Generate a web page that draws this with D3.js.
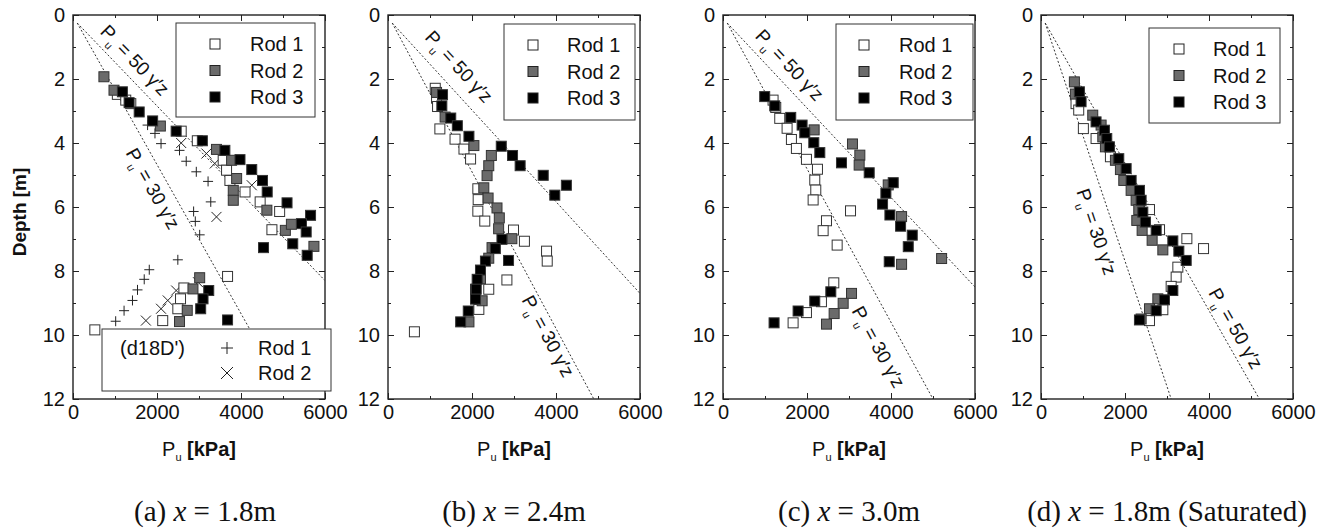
<!DOCTYPE html>
<meta charset="utf-8">
<style>
  body { margin: 0; background: #fff; }
  text { font-family: "Liberation Sans", Arial, sans-serif; fill: #111; }
  .tick line { stroke: #222; }
  .tick text { font-size: 20px; fill: #111; }
  .caption { font-family: "Liberation Serif", "Times New Roman", serif; font-size: 29px; }
</style>
<body>
<div id="chart"></div>
<script src="https://cdn.jsdelivr.net/npm/d3@7"></script>
<script>

// ---- data: [P_u (kPa), depth (m)] ----
var rod1A = [[1056,2.48],[1256,2.66],[1376,2.77],[2576,3.63],[2960,3.93],[3576,4.54],[3656,4.85],[3736,5.17],[4096,5.53],[4456,5.84],[4920,6.14],[4736,6.71],[3680,8.17],[2640,8.53],[2560,8.87],[2496,9.18],[2136,9.55],[520,9.84]];
var rod2A = [[736,1.93],[976,2.35],[2080,3.47],[3416,4.2],[3776,4.54],[3896,5.11],[3816,5.48],[3816,5.79],[4616,6.1],[5056,6.73],[5200,6.54],[5736,7.23],[3016,8.21],[2856,8.56],[2720,9.23],[2536,9.58]];
var rod3A = [[1176,2.4],[1336,2.74],[1576,3.03],[1896,3.31],[2456,3.63],[3080,3.93],[3616,4.23],[3976,4.52],[4256,4.83],[4512,5.17],[4624,5.53],[5096,5.87],[5656,6.26],[5440,6.52],[5552,6.78],[5232,7.15],[5576,7.51],[4536,7.27],[3232,8.61],[3096,8.87],[3040,9.18],[3680,9.53]];
var d18Rod1A = [[1776,3.44],[1952,3.7],[2096,4.02],[2536,4.23],[2696,4.57],[2936,4.9],[3216,5.2],[3280,5.84],[2872,6.14],[2912,6.45],[3016,6.87],[2496,7.65],[1816,7.96],[1696,8.26],[1536,8.59],[1416,8.92],[1216,9.24],[1016,9.57]];
var d18Rod2A = [[2576,4.0],[3176,4.33],[3376,4.64],[4256,5.32],[3416,6.31],[2976,8.35],[2456,8.61],[2256,8.92],[2096,9.18],[1736,9.55]];

var rod1B = [[1125,2.29],[1156,2.6],[1180,2.86],[1235,3.56],[1596,3.88],[1809,4.19],[1966,4.5],[2139,5.43],[2147,5.77],[2139,6.13],[2304,6.44],[2988,6.72],[3248,7.07],[3775,7.38],[3791,7.69],[2831,8.28],[2399,8.57],[2163,9.2],[629,9.9]];
var rod2B = [[1156,2.42],[1360,3.19],[2045,4.08],[2461,4.39],[2399,4.71],[2359,5.02],[2281,5.4],[2383,5.72],[2595,6.03],[2650,6.34],[2634,6.68],[2949,6.99],[2477,7.27],[2399,7.6],[2202,8.24],[2084,8.57],[2241,8.93],[1927,9.59]];
var rod3B = [[1298,2.49],[1282,2.84],[1494,3.22],[1651,3.46],[1927,3.79],[2697,4.1],[2965,4.39],[3146,4.71],[3696,5.01],[4247,5.32],[3971,5.63],[2713,7.01],[2870,7.67],[2556,7.3],[2320,7.69],[2202,7.97],[2123,8.26],[2100,8.57],[2084,8.88],[1911,9.25],[1730,9.59]];

var rod1C = [[1192,2.66],[1256,2.89],[1351,3.23],[1526,3.54],[1629,3.89],[1748,4.17],[1987,4.51],[2249,4.82],[2185,5.16],[2209,5.47],[2146,5.78],[3036,6.12],[2464,6.43],[2384,6.74],[2718,7.19],[2638,8.37],[2344,8.96],[1987,9.3],[1669,9.62]];
var rod2C = [[2170,3.59],[3083,4.03],[3258,4.38],[3242,4.69],[3934,5.31],[4252,6.3],[4252,7.79],[5205,7.61],[3060,8.7],[2861,9.01],[2646,9.33],[2464,9.66]];
var rod3C = [[993,2.55],[1232,2.84],[1613,3.2],[1883,3.44],[1947,3.68],[2162,3.99],[2305,4.3],[2821,4.62],[3481,4.93],[4053,5.24],[3878,5.57],[3799,5.91],[3974,6.25],[4228,6.6],[4506,6.88],[4411,7.24],[3958,7.71],[2567,8.65],[2185,8.94],[1788,9.25],[1216,9.62]];

var rod1D = [[834,2.77],[898,2.97],[1009,3.55],[1311,3.86],[1653,4.43],[2583,6.08],[2822,6.71],[3473,6.99],[3870,7.3],[3258,7.88],[3218,8.19],[3099,8.48],[2901,9.21],[2583,9.55]];
var rod2D = [[795,2.09],[819,2.47],[1232,3.13],[1431,3.44],[1471,3.81],[1534,4.12],[1772,4.54],[1891,4.83],[1971,5.17],[2146,5.48],[2265,5.79],[2328,6.08],[2281,6.42],[2408,6.73],[2646,7.04],[2901,7.34],[2782,8.87],[2583,9.18],[2384,9.5]];
var rod3D = [[914,2.4],[954,2.71],[1311,3.34],[1510,3.6],[1566,3.86],[1629,4.12],[1852,4.49],[2027,4.8],[2146,5.17],[2344,5.48],[2384,5.79],[2424,6.16],[2487,6.47],[2742,6.73],[3139,7.06],[3282,7.38],[3457,7.67],[3139,8.61],[2940,8.9],[2742,9.24],[2344,9.53]];

// reference lines P_u = 50 gamma z and 30 gamma z (end points)
var line50 = [[[100,0.25],[6000,8.3]], [[100,0.25],[6000,8.7]], [[100,0.25],[6000,8.5]], [[100,0.25],[5200,12]]];
var line30 = [[[100,0.25],[4330,10.1]], [[100,0.25],[4900,12]], [[100,0.25],[5000,12]], [[100,0.25],[3100,12]]];
// where the line labels sit (centre of text)
var label50 = [[1475,1.41], [1691,1.61], [1588,1.56], [4641,9.79]];
var label30 = [[1903,5.42], [3813,10.03], [3706,10.37], [1326,6.77]];

var rodNames = ["Rod 1", "Rod 2", "Rod 3"];
var d18Names = ["Rod 1", "Rod 2"];
var captionTag = ["(a)", "(b)", "(c)", "(d)"];
var captionValue = ["1.8m", "2.4m", "3.0m", "1.8m (Saturated)"];
var xMajor = [0, 2000, 4000, 6000];
var xMinor = [1000, 3000, 5000];
var yMajor = [0, 2, 4, 6, 8, 10, 12];
var yMinor = [1, 3, 5, 7, 9, 11];

var rods = [[rod1A, rod2A, rod3A], [rod1B, rod2B, rod3B], [rod1C, rod2C, rod3C], [rod1D, rod2D, rod3D]];

// ---- layout ----
var width = 1336, height = 528;
var panelLeft = [73, 388, 723, 1041];
var pw = 252, plotTop = 15, ph = 384;
// legend box relative to panel left / top
var legendBox = [
  {x: 103, y: 8, w: 139, h: 94, mx: 39, tx: 74},
  {x: 116, y: 9, w: 131, h: 96, mx: 29, tx: 63},
  {x: 113, y: 9, w: 137, h: 96, mx: 28, tx: 63},
  {x: 108, y: 13, w: 131, h: 95, mx: 30, tx: 64}
];
var rodFill = ["#fff", "#6b6b6b", "#000"];

var svg = d3.select("#chart").append("svg")
  .attr("width", width)
  .attr("height", height);

svg.append("rect").attr("width", width).attr("height", height).attr("fill", "#fff");

var lineGen = d3.line();
var fmt = d3.format("d");

panelLeft.forEach(function(left, i) {
  var x = d3.scaleLinear().domain([0, 6000]).range([left, left + pw]);
  var y = d3.scaleLinear().domain([0, 12]).range([plotTop, plotTop + ph]);
  var g = svg.append("g");

  // axes, ticks pointing inward
  function axis(gen, tx, ty, values, size, labels, pad) {
    var a = gen.tickValues(values).tickSize(-size).tickPadding(pad || 6);
    a.tickFormat(labels ? fmt : "");
    var ag = g.append("g").attr("transform", "translate(" + tx + "," + ty + ")").call(a);
    ag.select(".domain").remove();
    return ag;
  }
  axis(d3.axisBottom(x), 0, plotTop + ph, xMajor, 6, true, 6);
  axis(d3.axisBottom(x), 0, plotTop + ph, xMinor, 3, false);
  axis(d3.axisTop(x), 0, plotTop, xMajor, 6, false);
  axis(d3.axisTop(x), 0, plotTop, xMinor, 3, false);
  axis(d3.axisLeft(y), left, 0, yMajor, 6, true, 8);
  axis(d3.axisLeft(y), left, 0, yMinor, 3, false);
  axis(d3.axisRight(y), left + pw, 0, yMajor, 6, false);
  axis(d3.axisRight(y), left + pw, 0, yMinor, 3, false);

  g.append("rect")
    .attr("x", left).attr("y", plotTop).attr("width", pw).attr("height", ph)
    .attr("fill", "none").attr("stroke", "#222").attr("stroke-width", 1.4);

  // dashed reference lines
  var clipId = "clip" + i;
  g.append("clipPath").attr("id", clipId).append("rect")
    .attr("x", left).attr("y", plotTop).attr("width", pw).attr("height", ph);
  [line50[i], line30[i]].forEach(function(l) {
    g.append("path")
      .attr("clip-path", "url(#" + clipId + ")")
      .attr("d", lineGen(l.map(function(p) { return [x(p[0]), y(p[1])]; })))
      .attr("fill", "none").attr("stroke", "#333")
      .attr("stroke-width", 1).attr("stroke-dasharray", "2,2");
  });

  // line labels, rotated along their line
  [[line50[i], label50[i], "50"], [line30[i], label30[i], "30"]].forEach(function(d) {
    var l = d[0];
    var ang = Math.atan2(y(l[1][1]) - y(l[0][1]), x(l[1][0]) - x(l[0][0])) * 180 / Math.PI;
    var t = g.append("text")
      .attr("transform", "translate(" + x(d[1][0]) + "," + y(d[1][1]) + ") rotate(" + ang + ")")
      .attr("text-anchor", "middle").attr("dy", "0.35em")
      .style("font-size", "19px");
    t.append("tspan").text("P");
    t.append("tspan").text("u").style("font-size", "11px").attr("dy", 6);
    t.append("tspan").text(" = " + d[2] + " \u03b3\u2032z").attr("dy", -6);
  });

  // data points
  if (i === 0) {
    g.selectAll(".plus").data(d18Rod1A).enter().append("path")
      .attr("transform", function(d) { return "translate(" + x(d[0]) + "," + y(d[1]) + ")"; })
      .attr("d", "M-5,0H5M0,-5V5")
      .attr("stroke", "#222").attr("stroke-width", 1).attr("fill", "none");
    g.selectAll(".cross").data(d18Rod2A).enter().append("path")
      .attr("transform", function(d) { return "translate(" + x(d[0]) + "," + y(d[1]) + ")"; })
      .attr("d", "M-5,-5L5,5M-5,5L5,-5")
      .attr("stroke", "#222").attr("stroke-width", 1).attr("fill", "none");
  }
  rods[i].forEach(function(series, k) {
    g.selectAll(".rod" + k).data(series).enter().append("rect")
      .attr("x", function(d) { return x(d[0]) - 5; })
      .attr("y", function(d) { return y(d[1]) - 5; })
      .attr("width", 10).attr("height", 10)
      .attr("fill", rodFill[k]).attr("stroke", "#333").attr("stroke-width", 1);
  });

  // legend
  var lb = legendBox[i];
  var lg = g.append("g").attr("transform", "translate(" + (left + lb.x) + "," + (plotTop + lb.y) + ")");
  lg.append("rect").attr("width", lb.w).attr("height", lb.h)
    .attr("fill", "#fff").attr("stroke", "#333").attr("stroke-width", 1);
  rodNames.forEach(function(name, k) {
    var ry = 21 + k * 26.5;
    lg.append("rect").attr("x", lb.mx - 5).attr("y", ry - 5).attr("width", 10).attr("height", 10)
      .attr("fill", rodFill[k]).attr("stroke", "#222").attr("stroke-width", 1);
    lg.append("text").attr("x", lb.tx).attr("y", ry).attr("dy", "0.35em")
      .style("font-size", "20px").text(name);
  });

  if (i === 0) {
    var lg2 = g.append("g").attr("transform", "translate(" + (left + 29) + "," + (plotTop + 314) + ")");
    lg2.append("rect").attr("width", 229).attr("height", 62)
      .attr("fill", "#fff").attr("stroke", "#333").attr("stroke-width", 1);
    lg2.append("text").attr("x", 18).attr("y", 19).attr("dy", "0.35em")
      .style("font-size", "20px").text("(d18D')");
    lg2.append("path").attr("transform", "translate(125,19)").attr("d", "M-6,0H6M0,-6V6")
      .attr("stroke", "#222").attr("fill", "none");
    lg2.append("path").attr("transform", "translate(125,44)").attr("d", "M-6,-6L6,6M-6,6L6,-6")
      .attr("stroke", "#222").attr("fill", "none");
    d18Names.forEach(function(name, k) {
      lg2.append("text").attr("x", 156).attr("y", 19 + k * 25).attr("dy", "0.35em")
        .style("font-size", "20px").text(name);
    });
  }

  // x axis title
  var xt = g.append("text").attr("x", left + pw / 2).attr("y", 456)
    .attr("text-anchor", "middle").style("font-size", "20px");
  xt.append("tspan").text("P");
  xt.append("tspan").text("u").style("font-size", "11px").attr("dy", 5);
  xt.append("tspan").text(" [kPa]").attr("dy", -5).style("font-weight", "bold");

  // caption
  var ct = g.append("text").attr("class", "caption")
    .attr("x", left + pw / 2 + (i === 0 ? 6 : 0)).attr("y", 521).attr("text-anchor", "middle");
  ct.append("tspan").text(captionTag[i] + " ");
  ct.append("tspan").text("x").style("font-style", "italic");
  ct.append("tspan").text(" = " + captionValue[i]);
});

svg.append("text")
  .attr("transform", "translate(19,212) rotate(-90)")
  .attr("text-anchor", "middle").attr("dy", "0.35em")
  .style("font-size", "19px").style("font-weight", "bold")
  .text("Depth [m]");

</script>
</body>
